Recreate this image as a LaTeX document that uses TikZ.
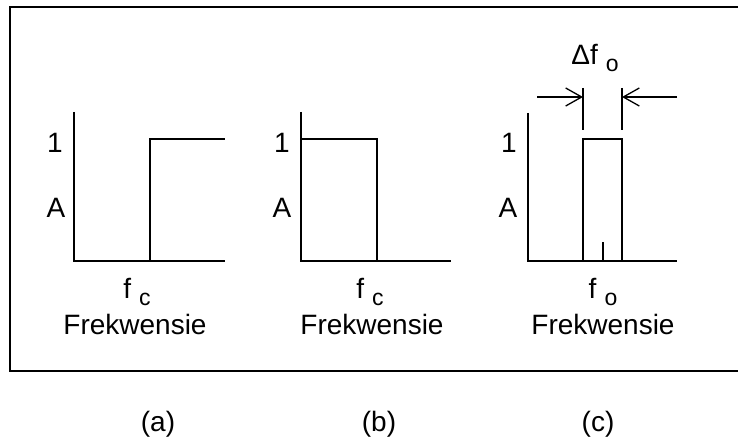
\documentclass[tikz,border=0pt]{standalone}
\usepackage{fontspec}
\setmainfont{Liberation Sans}
\usetikzlibrary{arrows.meta}

\newcommand{\subtxt}[1]{\hspace{8pt}\raisebox{-7pt}{\fontsize{23}{23}\selectfont #1}}

\begin{document}
\begin{tikzpicture}[x=1pt, y=-1pt,
  frame/.style={line width=1.4pt},
  axis/.style={line width=1.5pt},
  resp/.style={line width=1.5pt},
  lbl/.style={font=\fontsize{28}{30}\selectfont, inner sep=0pt, anchor=base},
  dimline/.style={line width=1.3pt},
  dimarrow/.style={line width=1.3pt, -{Straight Barb[length=16pt, width=18pt]}},
]
\useasboundingbox (0,0) rectangle (738,441);

\draw[frame] (738,7) -- (10,7) -- (10,371) -- (738,371);

% (a) high-pass
\coordinate (oa) at (74,261);
\draw[axis] (oa) ++(0,-149) -- (oa) -- ++(151,0);
\draw[resp] (oa) ++(76,0) -- ++(0,-122) -- ++(75,0);
\node[lbl] (onea) at (55,152.5) {1};
\node[lbl] (ampa) at (56,217) {A};
\node[lbl] (fa) at (137,298) {f\subtxt{c}};
\node[lbl] (freqa) at (135,334) {Frekwensie};
\node[lbl] (capa) at (158,431) {(a)};

% (b) low-pass
\coordinate (ob) at (301,261);
\draw[axis] (ob) ++(0,-149) -- (ob) -- ++(150,0);
\draw[resp] (ob) ++(0,-122) -- ++(76,0) -- ++(0,122);
\node[lbl] (oneb) at (282,152.5) {1};
\node[lbl] (ampb) at (282,217) {A};
\node[lbl] (fb) at (370,298) {f\subtxt{c}};
\node[lbl] (freqb) at (372,334) {Frekwensie};
\node[lbl] (capb) at (379,431) {(b)};

% (c) band-pass
\coordinate (oc) at (528,261);
\draw[axis] (oc) ++(0,-148) -- (oc) -- ++(149,0);
\draw[resp] (oc) ++(55,0) -- ++(0,-122) -- ++(39,0) -- ++(0,122);
\draw[resp] (oc) ++(75,0) -- ++(0,-19);
\node[lbl] (onec) at (509,152.5) {1};
\node[lbl] (ampc) at (508,217) {A};
\node[lbl] (fc) at (603,298) {f\subtxt{o}};
\node[lbl] (freqc) at (603,334) {Frekwensie};
\node[lbl] (capc) at (598,431) {(c)};

% bandwidth
\coordinate (bwl) at (583,97);
\coordinate (bwr) at (622,97);
\coordinate (bwla) at (537,97);
\coordinate (bwra) at (677,97);
\draw[dimline] (583,88) -- (583,130);
\draw[dimline] (622,88) -- (622,130);
\draw[dimarrow] (bwla) -- (bwl);
\draw[dimarrow] (bwra) -- (bwr);
\node[lbl] (bw) at (595,65) {Δf\subtxt{o}};

\end{tikzpicture}
\end{document}
